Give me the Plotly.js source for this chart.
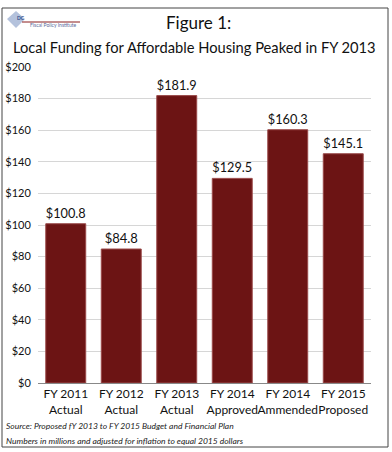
<!DOCTYPE html>
<html>
<head>
<meta charset="utf-8">
<script src="https://cdn.plot.ly/plotly-3.0.1.min.js"></script>
<style>
html,body{margin:0;padding:0;background:#fff;}
#chart{width:392px;height:452px;}
</style>
</head>
<body>
<div id="chart"></div>
<script>
const categories = ["FY 2011<br>Actual", "FY 2012<br>Actual", "FY 2013<br>Actual", "FY 2014<br>Approved", "FY 2014<br>Ammended", "FY 2015<br>Proposed"];
const funding = [100.8, 84.8, 181.9, 129.5, 160.3, 145.1];
const yTickVals = [0, 20, 40, 60, 80, 100, 120, 140, 160, 180, 200];
const yTickText = ["$0", "$20", "$40", "$60", "$80", "$100", "$120", "$140", "$160", "$180", "$200"];
const titleLine1 = "Figure 1:";
const titleLine2 = "Local Funding for Affordable Housing Peaked in FY 2013";
const sourceNote = "Source: Proposed fY 2013 to FY 2015 Budget and Financial Plan";
const unitsNote = "Numbers in millions and adjusted for inflation to equal 2015 dollars";

const FONT = 'Lato, Roboto, sans-serif';

// pixel -> paper helpers (plot area: x 38..371, y 67..383)
const px = x => (x - 38) / 333;
const py = y => (383 - y) / 316;

const trace = {
  type: 'bar',
  x: categories,
  y: funding,
  marker: {color: '#6c1414', line: {color: '#9a4a4a', width: 1}},
  text: funding.map(v => '$' + v.toFixed(1)),
  textposition: 'outside',
  textfont: {family: FONT, size: 13, color: '#111'},
  cliponaxis: false,
  hoverinfo: 'none'
};

const layout = {
  width: 392, height: 452,
  margin: {l: 38, r: 21, t: 67, b: 69},
  paper_bgcolor: '#fff', plot_bgcolor: '#fff',
  font: {family: FONT, color: '#111'},
  showlegend: false,
  bargap: 0.28,
  xaxis: {
    type: 'category',
    tickfont: {family: FONT, size: 12, color: '#111'},
    tickangle: 0,
    showline: true, linecolor: '#888', linewidth: 1,
    ticks: '', showgrid: false
  },
  yaxis: {
    range: [0, 200],
    tickvals: yTickVals,
    ticktext: yTickText,
    tickfont: {family: FONT, size: 11, color: '#111'},
    showgrid: true, gridcolor: '#d6d6d6', gridwidth: 1,
    zeroline: false, showline: false,
    ticks: 'outside', ticklen: 4, tickcolor: '#fff'
  },
  shapes: [
    {type: 'rect', xref: 'paper', yref: 'paper', x0: px(2), x1: px(388), y0: py(447), y1: py(8),
     line: {color: '#444', width: 1}, fillcolor: 'rgba(0,0,0,0)'},
    {type: 'path', xref: 'paper', yref: 'paper',
     path: 'M ' + px(7) + ',' + py(19) + ' L ' + px(16) + ',' + py(11) + ' L ' + px(25) + ',' + py(19) + ' L ' + px(16) + ',' + py(28) + ' Z',
     fillcolor: '#b4c2dc', line: {width: 0}},
    {type: 'line', xref: 'paper', yref: 'paper', x0: px(22), x1: px(80), y0: py(22), y1: py(22),
     line: {color: '#8a1c1c', width: 1}}
  ],
  annotations: [
    {text: titleLine1, xref: 'paper', yref: 'paper', x: px(198), y: py(23), xanchor: 'center', yanchor: 'middle',
     showarrow: false, font: {family: FONT, size: 17, color: '#111'}},
    {text: titleLine2, xref: 'paper', yref: 'paper', x: px(194), y: py(47), xanchor: 'center', yanchor: 'middle',
     showarrow: false, font: {family: FONT, size: 14.7, color: '#111'}},
    {text: '<b>DC</b>', xref: 'paper', yref: 'paper', x: px(15), y: py(18), xanchor: 'left', yanchor: 'middle',
     showarrow: false, font: {family: FONT, size: 5, color: '#2a4a8a'}},
    {text: 'Fiscal Policy Institute', xref: 'paper', yref: 'paper', x: px(28), y: py(25.5), xanchor: 'left', yanchor: 'middle',
     showarrow: false, font: {family: FONT, size: 5, color: '#5a6a9a'}},
    {text: '<i>' + sourceNote + '</i>', xref: 'paper', yref: 'paper', x: px(4), y: py(426), xanchor: 'left', yanchor: 'middle',
     showarrow: false, font: {family: FONT, size: 8.5, color: '#222'}},
    {text: '<i>' + unitsNote + '</i>', xref: 'paper', yref: 'paper', x: px(4), y: py(441), xanchor: 'left', yanchor: 'middle',
     showarrow: false, font: {family: FONT, size: 8.5, color: '#222'}}
  ]
};

Plotly.newPlot('chart', [trace], layout, {displayModeBar: false, staticPlot: true});
</script>
</body>
</html>
